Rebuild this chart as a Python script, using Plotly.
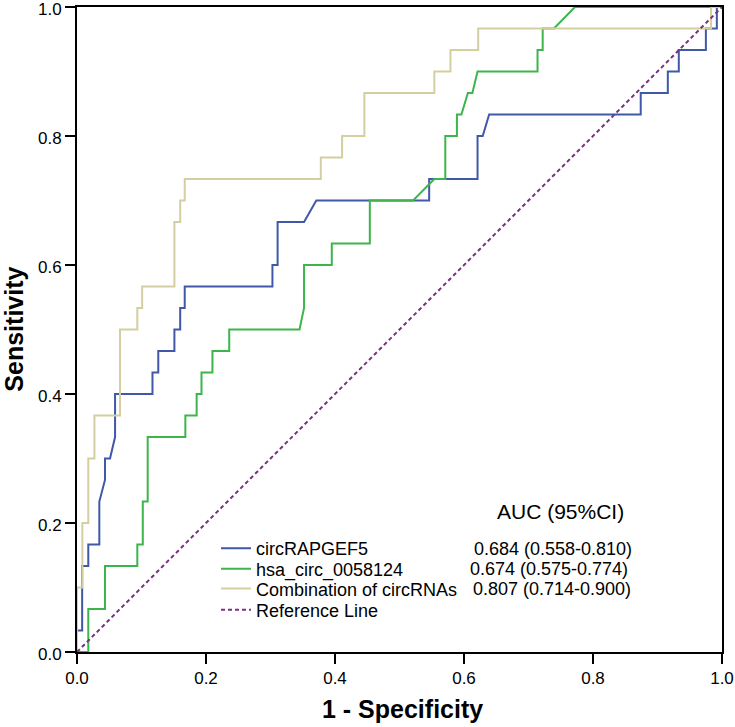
import plotly.graph_objects as go

# ROC curve points (x = 1 - specificity, y = sensitivity)
blue_x = [0, 0, 0.008, 0.008, 0.0175, 0.0175, 0.0346, 0.0346, 0.0434, 0.0434, 0.0512, 0.059, 0.059,
          0.117, 0.117, 0.126, 0.126, 0.151, 0.151, 0.160, 0.160, 0.167, 0.167, 0.303, 0.303, 0.311,
          0.311, 0.352, 0.371, 0.546, 0.546, 0.621, 0.621, 0.629, 0.639, 0.874, 0.874, 0.916, 0.916,
          0.933, 0.933, 0.975, 0.975, 0.992, 0.992, 1]
blue_y = [0, 0.0333, 0.0333, 0.1333, 0.1333, 0.1667, 0.1667, 0.2333, 0.2667, 0.3, 0.3, 0.3333, 0.4,
          0.4, 0.4333, 0.4333, 0.4667, 0.4667, 0.5, 0.5, 0.5333, 0.5333, 0.5667, 0.5667, 0.6, 0.6,
          0.6667, 0.6667, 0.7, 0.7, 0.7333, 0.7333, 0.8, 0.8, 0.8333, 0.8333, 0.8667, 0.8667, 0.9,
          0.9, 0.9333, 0.9333, 0.9667, 0.9667, 1, 1]

green_x = [0, 0.0175, 0.0175, 0.0434, 0.0434, 0.0935, 0.0935, 0.102, 0.102, 0.1096, 0.1096, 0.168,
           0.168, 0.1855, 0.1855, 0.193, 0.193, 0.21, 0.21, 0.236, 0.236, 0.345, 0.352, 0.352, 0.395,
           0.395, 0.454, 0.454, 0.521, 0.554, 0.571, 0.571, 0.589, 0.589, 0.596, 0.606, 0.613, 0.621,
           0.714, 0.714, 0.722, 0.722, 0.7395, 0.772, 1]
green_y = [0, 0, 0.0667, 0.0667, 0.1333, 0.1333, 0.1667, 0.1667, 0.2333, 0.2333, 0.3333, 0.3333,
           0.3667, 0.3667, 0.4, 0.4, 0.4333, 0.4333, 0.4667, 0.4667, 0.5, 0.5, 0.5333, 0.6, 0.6,
           0.6333, 0.6333, 0.7, 0.7, 0.7333, 0.7333, 0.8, 0.8, 0.8333, 0.8333, 0.8667, 0.8667, 0.9,
           0.9, 0.9333, 0.9333, 0.9667, 0.9667, 1, 1]

tan_x = [0, 0, 0.0083, 0.0083, 0.0175, 0.0175, 0.027, 0.027, 0.0667, 0.0667, 0.0935, 0.0935, 0.101,
         0.101, 0.151, 0.151, 0.160, 0.160, 0.167, 0.167, 0.378, 0.378, 0.411, 0.411, 0.4455, 0.4455,
         0.554, 0.554, 0.579, 0.579, 0.622, 0.622, 0.983, 0.983, 1]
tan_y = [0, 0.1, 0.1, 0.2, 0.2, 0.3, 0.3, 0.3667, 0.3667, 0.5, 0.5, 0.5333, 0.5333, 0.5667, 0.5667,
         0.6667, 0.6667, 0.7, 0.7, 0.7333, 0.7333, 0.7667, 0.7667, 0.8, 0.8, 0.8667, 0.8667, 0.9,
         0.9, 0.9333, 0.9333, 0.9667, 0.9667, 1, 1]

ref_x = [0, 1]
ref_y = [0, 1]

series_names = ["circRAPGEF5", "hsa_circ_0058124", "Combination of circRNAs", "Reference Line"]
auc_labels = ["0.684 (0.558-0.810)", "0.674 (0.575-0.774)", "0.807 (0.714-0.900)"]
tick_vals = [0, 0.2, 0.4, 0.6, 0.8, 1.0]
tick_text = ["0.0", "0.2", "0.4", "0.6", "0.8", "1.0"]

FONT = "Liberation Sans, Arial, sans-serif"

fig = go.Figure()
fig.add_trace(go.Scatter(x=blue_x, y=blue_y, mode="lines", name=series_names[0], legend="legend",
                         line=dict(color="#3f58a8", width=2)))
fig.add_trace(go.Scatter(x=green_x, y=green_y, mode="lines", name=series_names[1], legend="legend2",
                         line=dict(color="#3db54b", width=2)))
fig.add_trace(go.Scatter(x=tan_x, y=tan_y, mode="lines", name=series_names[2], legend="legend3",
                         line=dict(color="#d4cfa0", width=2)))
fig.add_trace(go.Scatter(x=ref_x, y=ref_y, mode="lines", name=series_names[3], legend="legend4",
                         line=dict(color="#7a2f80", width=2, dash="4px,3px")))

fig.add_annotation(x=0.749, y=0.2185, xref="x", yref="y", text="AUC (95%CI)", showarrow=False,
                   font=dict(family=FONT, size=21, color="black"), xanchor="center", yanchor="middle")
auc_pos = [(0.612, 0.1602), (0.606, 0.1287), (0.611, 0.098)]
for (ax, ay), lab in zip(auc_pos, auc_labels):
    fig.add_annotation(x=ax, y=ay, xref="x", yref="y", text=lab, showarrow=False,
                       font=dict(family=FONT, size=18, color="black"), xanchor="left", yanchor="middle")

# axis titles
fig.add_annotation(x=0.504, y=-0.0884, xref="paper", yref="paper", text="<b>1 - Specificity</b>",
                   showarrow=False, font=dict(family=FONT, size=25, color="black"),
                   xanchor="center", yanchor="middle")
fig.add_annotation(x=-0.099, y=0.5, xref="paper", yref="paper", text="<b>Sensitivity</b>",
                   showarrow=False, textangle=-90, font=dict(family=FONT, size=25, color="black"),
                   xanchor="center", yanchor="middle")

axis_common = dict(range=[0, 1], tickvals=tick_vals, ticktext=tick_text, showgrid=False,
                   zeroline=False, showline=True, linecolor="black", linewidth=2, mirror=True,
                   ticks="outside", ticklen=10, tickwidth=2, tickcolor="black",
                   ticklabeloverflow="allow", automargin=False,
                   tickfont=dict(family=FONT, size=17, color="black"))

leg_common = dict(x=0.2155, xanchor="left", yanchor="middle", bgcolor="rgba(0,0,0,0)",
                  font=dict(family=FONT, size=18, color="black"), itemwidth=30)
leg_rows = [0.1602, 0.1287, 0.098, 0.0651]

fig.update_layout(
    width=735, height=727,
    margin=dict(l=77, r=13, t=7, b=75),
    paper_bgcolor="white", plot_bgcolor="white",
    xaxis=axis_common,
    yaxis=dict(ticklabelshift=2, **axis_common),
    legend=dict(y=leg_rows[0], **leg_common),
    legend2=dict(y=leg_rows[1], **leg_common),
    legend3=dict(y=leg_rows[2], **leg_common),
    legend4=dict(y=leg_rows[3], **leg_common),
    showlegend=True,
)

fig.write_html("out.html", config={"displayModeBar": False},
               post_script="document.body.style.margin='0';")
